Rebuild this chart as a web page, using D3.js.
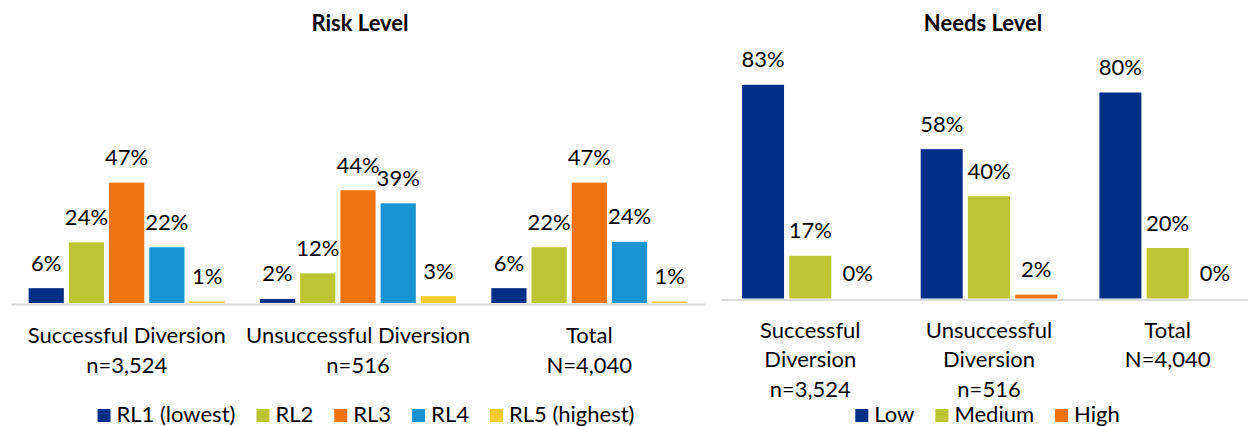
<!DOCTYPE html>
<html>
<head>
<meta charset="utf-8">
<script src="https://cdn.jsdelivr.net/npm/d3@7"></script>
<style>
  html, body { margin: 0; padding: 0; background: #fff; }
  svg { display: block; }
  text { font-family: Lato, "Open Sans", sans-serif; fill: #000; }
</style>
</head>
<body>
<svg id="chart" width="1248" height="426"></svg>
<script>
// ---------- Data ----------
const riskCategories = ["Successful Diversion\nn=3,524", "Unsuccessful Diversion\nn=516", "Total\nN=4,040"];
const riskSeries = ["RL1 (lowest)", "RL2", "RL3", "RL4", "RL5 (highest)"];
const rl1Values = [5.8, 1.6, 5.8];
const rl2Values = [23.7, 11.6, 21.8];
const rl3Values = [47.1, 44.1, 47.1];
const rl4Values = [21.8, 39.0, 23.9];
const rl5Values = [0.6, 2.7, 0.6];

const needsCategories = ["Successful\nDiversion\nn=3,524", "Unsuccessful\nDiversion\nn=516", "Total\nN=4,040"];
const needsSeries = ["Low", "Medium", "High"];
const lowValues = [83, 58, 80];
const mediumValues = [16.6, 39.7, 19.6];
const highValues = [0, 1.5, 0];

// ---------- Styles ----------
const riskColors = ["#002F87", "#BCC431", "#F0730E", "#1993D1", "#F6CB2D"];
const needsColors = ["#002F87", "#BCC431", "#F0730E"];

const svg = d3.select("#chart");
const FONT = 22;

function drawPanel(opts) {
  const g = svg.append("g");
  const x0 = d3.scaleBand().domain(opts.categories).range(opts.xRange)
    .paddingInner(opts.pi).paddingOuter(opts.pi / 2);
  const x1 = d3.scaleBand().domain(opts.series).range([0, x0.bandwidth()])
    .paddingInner(opts.pi1).paddingOuter(0);
  const y = d3.scaleLinear().domain([0, 100]).range([opts.base, opts.base - opts.pxPer100]);
  const color = d3.scaleOrdinal().domain(opts.series).range(opts.colors);

  const rows = opts.categories.map((c, i) => ({
    cat: c,
    vals: opts.series.map((s, j) => ({ s, v: opts.values[j][i] }))
  }));

  // axis
  const axis = g.append("g").attr("transform", `translate(0,${opts.base})`)
    .call(d3.axisBottom(x0).tickSizeInner(0).tickSizeOuter(0).tickPadding(0));
  axis.select(".domain").attr("stroke", "#D9D9D9").attr("stroke-width", 2)
    .attr("transform", "translate(0,1)");
  axis.selectAll(".tick text").each(function(d) {
    const t = d3.select(this);
    t.text(null).attr("y", 0).attr("dy", null)
      .attr("font-size", FONT).attr("font-family", "Lato, sans-serif").attr("fill", "#000");
    d.split("\n").forEach((line, k) => {
      t.append("tspan").attr("x", 0).attr("y", opts.labelY0 + k * opts.lineH).text(line);
    });
  });

  const grp = g.selectAll(".grp").data(rows).join("g")
    .attr("transform", d => `translate(${x0(d.cat)},0)`);
  grp.selectAll("rect").data(d => d.vals).join("rect")
    .attr("x", d => x1(d.s))
    .attr("width", x1.bandwidth())
    .attr("y", d => y(d.v))
    .attr("height", d => y(0) - y(d.v))
    .attr("fill", d => color(d.s));
  grp.selectAll("text.lbl").data(d => d.vals).join("text")
    .attr("class", "lbl")
    .attr("x", d => x1(d.s) + x1.bandwidth() / 2)
    .attr("y", d => y(d.v) - 17.5)
    .attr("text-anchor", "middle")
    .attr("font-size", FONT)
    .text(d => Math.round(d.v) + "%");

  // title
  g.append("text").attr("x", opts.titleX).attr("y", 31).attr("text-anchor", "middle")
    .attr("font-size", FONT).attr("font-weight", "bold").text(opts.title);

  // legend
  const leg = g.append("g");
  let cx = 0;
  opts.series.forEach((s, i) => {
    const it = leg.append("g").attr("transform", `translate(${cx},0)`);
    it.append("rect").attr("x", 0).attr("y", 409).attr("width", 13).attr("height", 13)
      .attr("fill", color(s));
    const t = it.append("text").attr("x", 19).attr("y", 422).attr("font-size", FONT).text(s);
    cx += 19 + t.node().getComputedTextLength() + 21;
  });
  const total = cx - 21;
  leg.attr("transform", `translate(${opts.legendCenter - total / 2},0)`);
}

drawPanel({
  title: "Risk Level", titleX: 360,
  categories: riskCategories, series: riskSeries,
  values: [rl1Values, rl2Values, rl3Values, rl4Values, rl5Values],
  colors: riskColors,
  xRange: [11, 705], pi: 0.1526, pi1: 0.125,
  base: 303, pxPer100: 255.6,
  labelY0: 39.5, lineH: 30.5,
  legendCenter: 366
});

drawPanel({
  title: "Needs Level", titleX: 983,
  categories: needsCategories, series: needsSeries,
  values: [lowValues, mediumValues, highValues],
  colors: needsColors,
  xRange: [721, 1257], pi: 0.2355, pi1: 0.112,
  base: 298.5, pxPer100: 257.5,
  labelY0: 39, lineH: 29.5,
  legendCenter: 987.5
});
</script>
</body>
</html>
